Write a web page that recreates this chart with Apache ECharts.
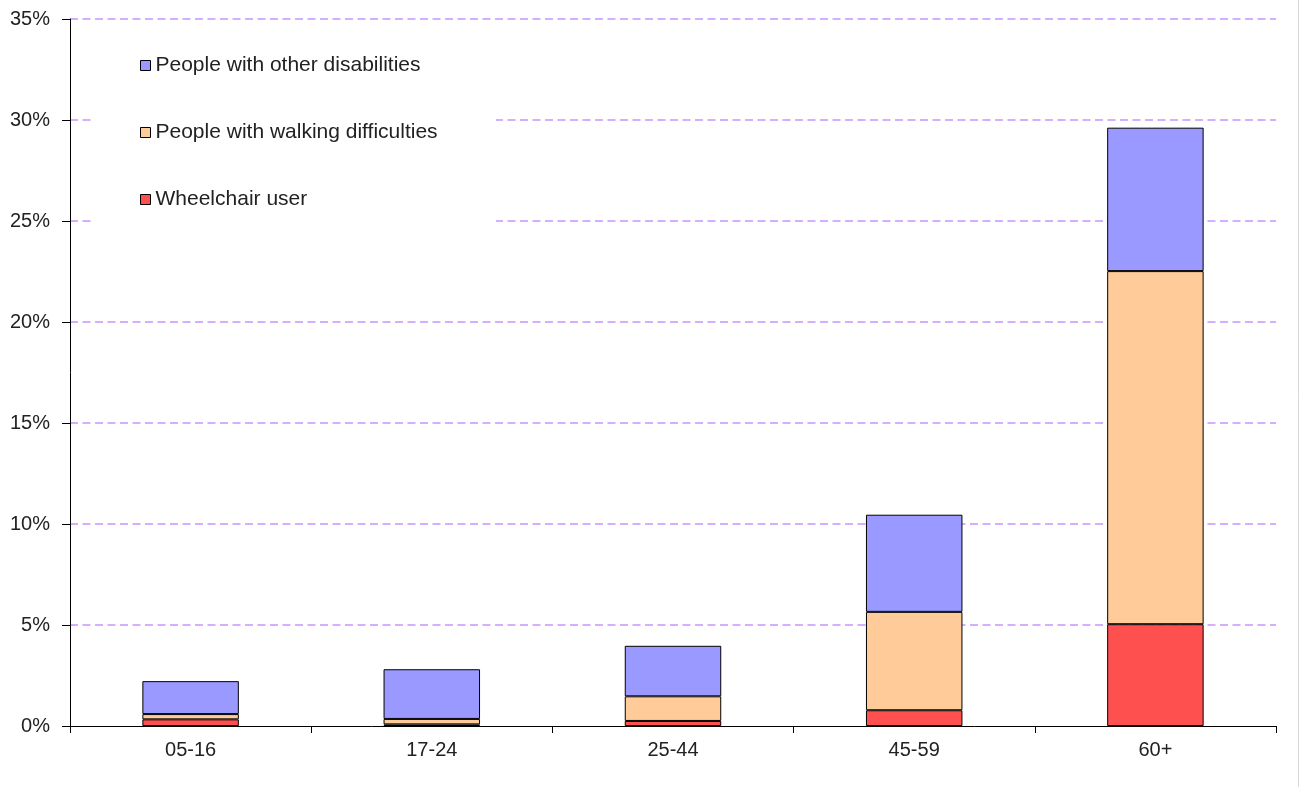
<!DOCTYPE html>
<html>
<head>
<meta charset="utf-8">
<script src="https://cdn.jsdelivr.net/npm/echarts@6/dist/echarts.min.js"></script>
<style>
html,body{margin:0;padding:0;background:#fff;}
#chart{width:1303px;height:787px;}
</style>
</head>
<body>
<div id="chart"></div>
<script>
var categories = ['05-16', '17-24', '25-44', '45-59', '60+'];
var wheelchair = [0.33, 0.08, 0.25, 0.78, 5.04];
var walking = [0.26, 0.27, 1.22, 4.87, 17.48];
var other = [1.63, 2.46, 2.50, 4.81, 7.10];
var yTicks = [0, 5, 10, 15, 20, 25, 30, 35];

var names = ['Wheelchair user', 'People with walking difficulties', 'People with other disabilities'];
var colors = ['#FF5050', '#FFCC99', '#9999FF'];
var values = [wheelchair, walking, other];

var chart = echarts.init(document.getElementById('chart'));
var font = 'Liberation Sans, Arial, sans-serif';

var series = names.map(function (n, i) {
  return {
    name: n,
    type: 'bar',
    stack: 'total',
    barWidth: '40%',
    data: values[i],
    itemStyle: { color: colors[i], borderColor: '#000', borderWidth: 1 },
    emphasis: { disabled: true },
    z: 2
  };
});

chart.setOption({
  animation: false,
  backgroundColor: '#fff',
  textStyle: { fontFamily: font },
  grid: { left: 70, right: 27, top: 19, bottom: 61, containLabel: false },
  graphic: [
    { type: 'rect', shape: { x: 92, y: 30, width: 404, height: 202 }, style: { fill: '#fff' }, z: 1 },
    { type: 'line', shape: { x1: 1298.5, y1: 0, x2: 1298.5, y2: 787 }, style: { stroke: '#d8d8d8', lineWidth: 1 }, z: 1 }
  ],
  legend: {
    data: [names[2], names[1], names[0]],
    orient: 'vertical',
    left: 135,
    top: 50,
    itemWidth: 10,
    itemHeight: 10,
    itemGap: 46,
    icon: 'rect',
    itemStyle: { borderColor: '#000', borderWidth: 1 },
    textStyle: { fontSize: 21, color: '#222', fontFamily: font },
    selectedMode: false,
    z: 5
  },
  xAxis: {
    type: 'category',
    data: categories,
    axisLine: { lineStyle: { color: '#000', width: 1 } },
    axisTick: { show: true, length: 7, lineStyle: { color: '#000' } },
    axisLabel: { fontSize: 20, color: '#222', margin: 14, fontFamily: font },
    z: 3
  },
  yAxis: {
    type: 'value',
    min: 0,
    max: 35,
    interval: 5,
    axisLine: { show: true, lineStyle: { color: '#000', width: 1 } },
    axisTick: { show: true, length: 8, lineStyle: { color: '#000' } },
    axisLabel: { fontSize: 20, color: '#222', margin: 20, fontFamily: font, formatter: function (v) { return yTicks.indexOf(v) >= 0 ? v + '%' : ''; } },
    splitLine: { show: true, showMinLine: false, lineStyle: { color: '#D6AEFF', type: [8, 4.5], width: 2 } },
    z: 0
  },
  series: series
});
</script>
</body>
</html>
